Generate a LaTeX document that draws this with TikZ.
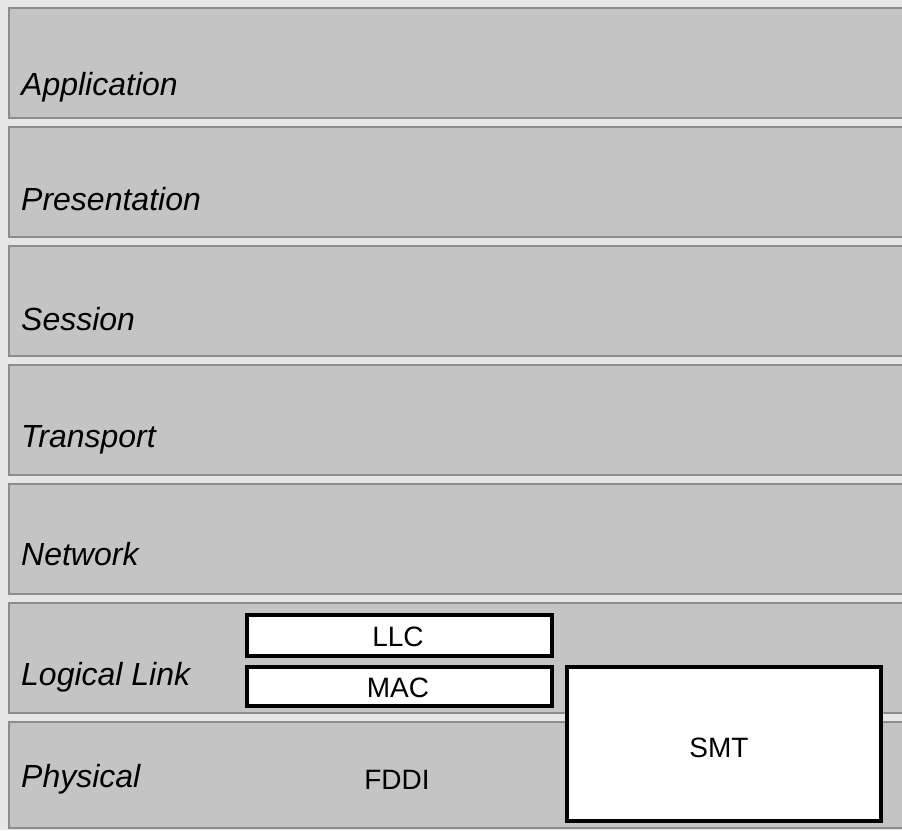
\documentclass[tikz,border=0pt]{standalone}
\usepackage{fontspec}
\setmainfont{Liberation Sans}
\definecolor{bandfill}{HTML}{C4C4C4}
\definecolor{bandline}{HTML}{8C8C8C}
\definecolor{bggray}{HTML}{E6E6E6}
\begin{document}
\begin{tikzpicture}[x=1pt,y=-1pt,
  band/.style={draw=bandline, line width=1.6pt, fill=bandfill, anchor=north west,
    minimum width=905pt, minimum height=110pt, inner sep=0pt, outer sep=0pt},
  layerlabel/.style={anchor=base west, font=\fontsize{32}{35}\selectfont\itshape, inner sep=0pt},
  whitebox/.style={draw=black, line width=4pt, fill=white, inner sep=0pt},
  boxtext/.style={anchor=base, inner sep=0pt, font=\fontsize{28}{30}\selectfont}]
\useasboundingbox (0,0) rectangle (902,830);
\fill[bggray] (0,0) rectangle (902,830);
\clip (0,0) rectangle (902,830);

% layer bands
\node[band] (b1) at (9,8) {};
\node[band] (b2) at (9,127) {};
\node[band] (b3) at (9,246) {};
\node[band] (b4) at (9,365) {};
\node[band] (b5) at (9,484) {};
\node[band] (b6) at (9,603) {};
\node[band, minimum height=106pt] (b7) at (9,722) {};

% layer labels
\node[layerlabel] (l1) at (21,95) {Application};
\node[layerlabel] (l2) at (21,210) {Presentation};
\node[layerlabel] (l3) at (21,330) {Session};
\node[layerlabel] (l4) at (21,447) {Transport};
\node[layerlabel] (l5) at (21,565) {Network};
\node[layerlabel] (l6) at (21,685) {Logical Link};
\node[layerlabel] (l7) at (21,787) {Physical};

% FDDI boxes
\node[whitebox, minimum width=305pt, minimum height=41pt] (llc) at (399.5,635.5) {};
\node[boxtext] (llct) at (398,646) {LLC};
\node[whitebox, minimum width=305pt, minimum height=39pt] (mac) at (399.5,686.5) {};
\node[boxtext] (mact) at (398,697) {MAC};
\node[whitebox, minimum width=314pt, minimum height=154pt] (smt) at (724,744) {};
\node[boxtext] (smtt) at (719,757) {SMT};
\node[boxtext] (fddi) at (397,789) {FDDI};
\end{tikzpicture}
\end{document}
